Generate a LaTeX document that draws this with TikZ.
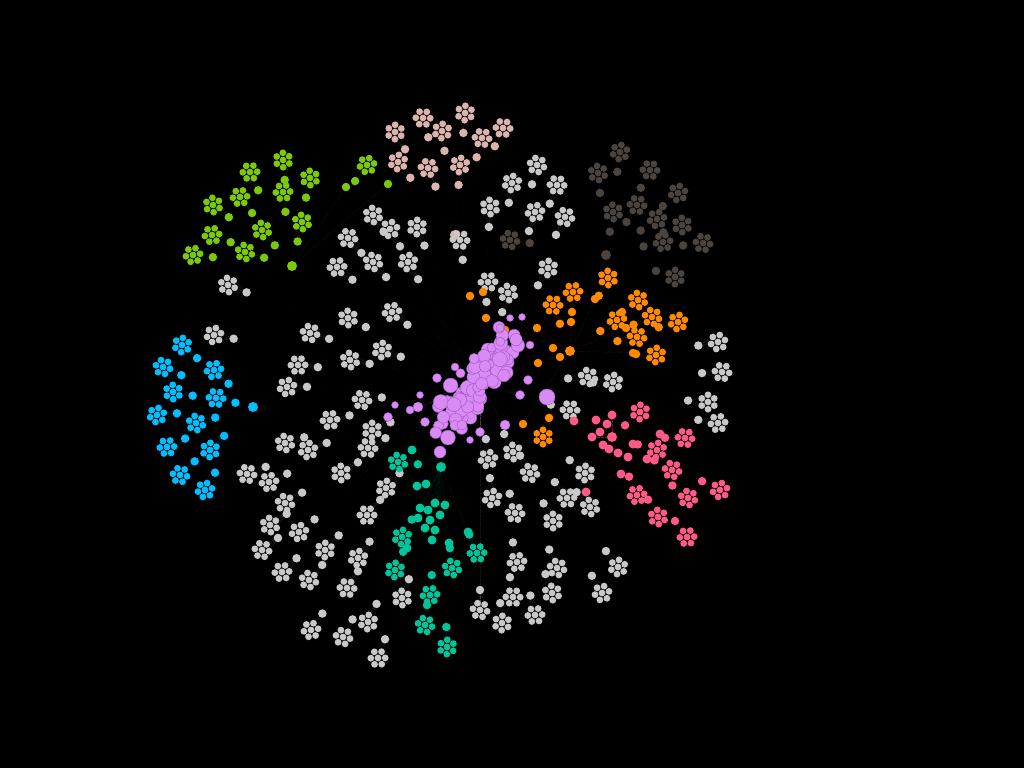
\documentclass[tikz,border=0pt]{standalone}
\usetikzlibrary{calc}
\definecolor{grayc}{HTML}{C8C8C8}
\definecolor{rosec}{HTML}{DDB3AE}
\definecolor{brownc}{HTML}{4B433D}
\definecolor{greenc}{HTML}{7CC80A}
\definecolor{bluec}{HTML}{00BFFF}
\definecolor{orangec}{HTML}{FF8A00}
\definecolor{redc}{HTML}{FF5A87}
\definecolor{tealc}{HTML}{00C49A}
\definecolor{purc}{HTML}{D98AF5}
\definecolor{purline}{HTML}{9A5AB8}
\pgfdeclarelayer{bg}
\pgfdeclarelayer{links}
\pgfsetlayers{bg,links,main}
\tikzset{
  leaf/.style  = {circle, fill=#1, inner sep=0pt, minimum size=6.8pt},
  hub/.style   = {circle, fill=#1, inner sep=0pt, minimum size=8.5pt},
  ghub/.style  = {circle, fill=#1, inner sep=0pt, minimum size=10pt},
  blob/.style  = {circle, fill=purc, draw=purline, line width=0.4pt, inner sep=0pt},
  link/.style  = {draw=#1, line width=0.3pt, densely dotted, draw opacity=0.35},
  farlink/.style = {draw=#1, line width=0.3pt, densely dotted, draw opacity=0.1},
}
% name, cx, cy, parent, colour, turn
\newcommand\flowernodes[6]{%
  \coordinate (#1c) at (#2,#3);
  \node[hub=#5] (#1h) at ($(#1c)!20pt!(#4)$) {};
  \node[leaf=#5] (#1l6) at (#1c) {};
  \foreach \k in {0,...,5}{\node[leaf=#5] (#1l\k) at ($(#1c)+(#6+60*\k:7.2)$) {};}
}
% name, parent, colour
\newcommand\flowerlinks[3]{%
  \foreach \k in {0,...,6}{\draw[link=#3] (#1l\k) -- (#1h);}
  \draw[farlink=#3] (#1h) -- (#2);
}
\newcommand\greylist{373/215, 390/229, 348/238, 417/227, 337/267, 373/262, 408/262, 460/240,
      348/318, 392/312, 310/333, 382/350, 298/365, 350/360, 287/387, 362/400, 372/430, 330/420,
      537/165, 512/183, 557/185, 490/207, 535/212, 565/217, 548/268, 488/282, 508/293,
      718/342, 722/372, 708/402, 718/423, 588/377, 613/382, 570/410,
      513/452, 488/459, 530/473, 585/473, 567/498, 590/507, 492/498, 515/513, 553/521,
      517/562, 557/568, 618/567, 513/597, 552/593, 602/593, 480/610, 502/623, 535/615,
      285/443, 308/450, 368/448, 341/473, 269/482, 285/503, 386/488, 367/515, 270/525,
      299/532, 262/550, 325/550, 282/572, 309/580, 358/558, 347/588, 402/598, 311/630,
      343/637, 368/622, 378/658, 228/285, 214/335, 247/474}
\newcommand\roselist{395/132, 423/118, 465/113, 503/128, 442/131, 482/138, 398/162, 428/168, 460/165}
\newcommand\greenlist{283/160, 250/172, 310/178, 283/192, 213/205, 240/197, 302/222,
      212/235, 262/230, 193/255, 245/252, 367/165}
\newcommand\bluelist{182/345, 163/367, 214/370, 173/392, 216/398, 157/415, 196/423,
      167/447, 210/450, 180/475, 205/490}
\newcommand\brownlist{620/152, 598/173, 650/170, 678/193, 613/212, 637/205, 657/219,
      682/225, 703/243, 663/242, 675/277, 510/240}
\newcommand\orangelist{608/278, 573/292, 638/300, 617/320, 652/317, 678/322, 637/337,
      656/355, 553/305, 543/437}
\newcommand\redlist{640/412, 685/438, 657/450, 672/470, 720/490, 688/498, 637/495, 658/517, 687/537}
\newcommand\teallist{398/462, 402/537, 477/553, 452/568, 395/570, 430/595, 425/625, 447/647}

\begin{document}
\begin{tikzpicture}[x=1pt, y=-1pt]
  \useasboundingbox (0,0) rectangle (1024,768);
  \begin{pgfonlayer}{bg}
    \fill[black] (0,0) rectangle (1024,768);
  \end{pgfonlayer}

  \coordinate (core) at (480,385);

  % group hubs
  \node[ghub=rosec]   (rosehub)   at (455,235) {};
  \node[ghub=greenc]  (greenhub)  at (292,266) {};
  \node[ghub=bluec]   (bluehub)   at (253,407) {};
  \node[ghub=brownc]  (brownhub)  at (606,255) {};
  \node[ghub=orangec] (orangehub) at (570,351) {};
  \node[ghub=redc]    (redhub)    at (612,437) {};
  \node[ghub=tealc]   (tealhub)   at (441,467) {};

  % flowers
  \foreach \x/\y [count=\i] in \greylist   {\flowernodes{gr\i}{\x}{\y}{core}{grayc}{\i*23}}
  \foreach \x/\y [count=\i] in \roselist   {\flowernodes{ro\i}{\x}{\y}{rosehub}{rosec}{\i*31}}
  \foreach \x/\y [count=\i] in \greenlist  {\flowernodes{gn\i}{\x}{\y}{greenhub}{greenc}{\i*29}}
  \foreach \x/\y [count=\i] in \bluelist   {\flowernodes{bl\i}{\x}{\y}{bluehub}{bluec}{\i*37}}
  \foreach \x/\y [count=\i] in \brownlist  {\flowernodes{br\i}{\x}{\y}{brownhub}{brownc}{\i*41}}
  \foreach \x/\y [count=\i] in \orangelist {\flowernodes{or\i}{\x}{\y}{orangehub}{orangec}{\i*27}}
  \foreach \x/\y [count=\i] in \redlist    {\flowernodes{rd\i}{\x}{\y}{redhub}{redc}{\i*33}}
  \foreach \x/\y [count=\i] in \teallist   {\flowernodes{tl\i}{\x}{\y}{tealhub}{tealc}{\i*19}}

  % loose dots
  \foreach \x/\y [count=\i] in {346/187, 388/184}
    {\node[hub=greenc] (gs\i) at (\x,\y) {};}
  \foreach \x/\y [count=\i] in {538/363, 523/424, 470/296, 483/292, 486/318, 505/330, 537/328,
      553/348, 560/357, 595/299, 626/328, 633/353, 571/322}
    {\node[hub=orangec] (os\i) at (\x,\y) {};}
  \foreach \x/\y [count=\i] in {596/420, 607/424, 600/432, 612/415, 603/445, 609/449, 633/444,
      628/457, 647/459, 660/434, 621/474, 586/492, 574/421, 592/437, 618/453}
    {\node[hub=redc, minimum size=9pt] (rs\i) at (\x,\y) {};}
  \foreach \x/\y [count=\i] in {426/484, 417/486, 435/503, 428/510, 418/518, 430/520, 440/515,
      425/528, 435/530, 432/540, 420/508, 445/505, 412/450, 449/543, 468/532, 407/548}
    {\node[hub=tealc, minimum size=9pt] (ts\i) at (\x,\y) {};}

  % purple core
  \pgfmathsetseed{11}
  \foreach \i in {1,...,95}{
    \pgfmathsetmacro\tpos{rnd}
    \pgfmathsetmacro\bx{446+66*\tpos+15*rand}
    \pgfmathsetmacro\by{424-88*\tpos+14*rand}
    \pgfmathsetmacro\bsz{9+6*rnd}
    \node[blob, minimum size=\bsz pt] (pc\i) at (\bx,\by) {};
  }
  \foreach \x/\y/\s [count=\i] in {547/397/16, 440/452/12, 388/417/9, 418/407/10, 437/378/9,
      455/367/8, 522/317/7, 510/318/7, 480/432/9, 462/425/10, 425/422/9, 410/410/8, 420/395/7,
      500/328/8, 530/345/8, 528/380/9, 520/395/9, 505/425/10, 470/440/7, 395/405/7}
    {\node[blob, minimum size=\s pt] (ps\i) at (\x,\y) {};}

  % links, all on one layer
  \begin{pgfonlayer}{links}
    \foreach \g/\c in {rosehub/rosec, greenhub/greenc, bluehub/bluec, brownhub/brownc,
                       orangehub/orangec, redhub/redc, tealhub/tealc}{\draw[farlink=\c] (\g) -- (core);}
    \foreach \x/\y [count=\i] in \greylist   {\flowerlinks{gr\i}{core}{grayc}}
    \foreach \x/\y [count=\i] in \roselist   {\flowerlinks{ro\i}{rosehub}{rosec}}
    \foreach \x/\y [count=\i] in \greenlist  {\flowerlinks{gn\i}{greenhub}{greenc}}
    \foreach \x/\y [count=\i] in \bluelist   {\flowerlinks{bl\i}{bluehub}{bluec}}
    \foreach \x/\y [count=\i] in \brownlist  {\flowerlinks{br\i}{brownhub}{brownc}}
    \foreach \x/\y [count=\i] in \orangelist {\flowerlinks{or\i}{orangehub}{orangec}}
    \foreach \x/\y [count=\i] in \redlist    {\flowerlinks{rd\i}{redhub}{redc}}
    \foreach \x/\y [count=\i] in \teallist   {\flowerlinks{tl\i}{tealhub}{tealc}}
    \foreach \i in {1,2}{\draw[link=greenc] (gs\i) -- (greenhub);}
    \foreach \i in {1,...,13}{\draw[link=orangec] (os\i) -- (orangehub);}
    \foreach \i in {1,...,15}{\draw[link=redc] (rs\i) -- (redhub);}
    \foreach \i in {1,...,16}{\draw[link=tealc] (ts\i) -- (tealhub);}
    \foreach \i in {1,...,95}{\draw[link=purc] (pc\i) -- (core);}
    \foreach \i in {1,...,20}{\draw[link=purc] (ps\i) -- (core);}
  \end{pgfonlayer}
\end{tikzpicture}
\end{document}
